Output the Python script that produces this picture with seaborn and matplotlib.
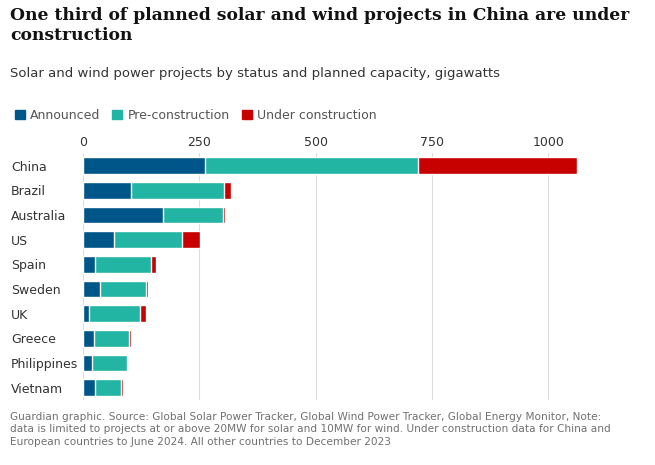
import numpy as np
import pandas as pd
import matplotlib
matplotlib.use('Agg')
import matplotlib.pyplot as plt
import seaborn as sns
from matplotlib.patches import Patch

countries = ['China', 'Brazil', 'Australia', 'US', 'Spain', 'Sweden', 'UK', 'Greece', 'Philippines', 'Vietnam']
announced = [262, 103, 172, 67, 26, 37, 13, 24, 19, 26]
pre_construction = [458, 200, 129, 146, 120, 98, 110, 75, 76, 56]
under_construction = [342, 15, 4, 39, 11, 5, 12, 4, 2, 4]
statuses = ['Announced', 'Pre-construction', 'Under construction']
colors = ['#005689', '#22b5a4', '#c70000']

sns.set_style('white')
plt.rcParams['font.family'] = ['DejaVu Sans']

fig = plt.figure(figsize=(6.55, 4.65), dpi=100)
ax = fig.add_axes([0.127, 0.14, 0.76, 0.53])

df = pd.DataFrame({'country': countries, 'a': announced, 'p': pre_construction, 'u': under_construction})
left = np.zeros(len(df))
for col, c in zip(['a', 'p', 'u'], colors):
    sns.barplot(data=df.assign(v=left + df[col]), x='v', y='country', color=c, ax=ax,
                width=0.68, saturation=1)
    left = left + df[col]
# shorter cumulative segments drawn on top
n = len(countries)
for i, p in enumerate(ax.patches):
    p.set_zorder(5 - i // n)

ax.set_xlim(0, 1070)
ax.set_xticks([0, 250, 500, 750, 1000])
ax.xaxis.tick_top()
ax.tick_params(axis='both', length=0, labelsize=9, colors='#333333')
ax.tick_params(axis='y', pad=52)
for lab in ax.get_yticklabels():
    lab.set_horizontalalignment('left')
ax.set_xlabel('')
ax.set_ylabel('')
ax.grid(axis='x', color='#dcdcdc', linewidth=0.8, zorder=0)
ax.set_axisbelow(True)
for s in ax.spines.values():
    s.set_visible(False)

fig.text(0.015, 0.985, 'One third of planned solar and wind projects in China are under\nconstruction',
         fontsize=12.3, fontweight='bold', family='DejaVu Serif', va='top', color='#121212', linespacing=1.2)
fig.text(0.015, 0.855, 'Solar and wind power projects by status and planned capacity, gigawatts',
         fontsize=9.5, va='top', color='#333333')
handles = [Patch(color=c, label=s) for c, s in zip(colors, statuses)]
fig.legend(handles=handles, loc='upper left', bbox_to_anchor=(0.005, 0.79), ncol=3, frameon=False,
           fontsize=9, handlelength=0.8, handleheight=0.8, handletextpad=0.4, columnspacing=1.0,
           labelcolor='#555555')
fig.text(0.015, 0.115, 'Guardian graphic. Source: Global Solar Power Tracker, Global Wind Power Tracker, Global Energy Monitor, Note:\n'
         'data is limited to projects at or above 20MW for solar and 10MW for wind. Under construction data for China and\n'
         'European countries to June 2024. All other countries to December 2023',
         fontsize=7.6, va='top', color='#707070', linespacing=1.35)
fig.savefig('out.png', dpi=100)
